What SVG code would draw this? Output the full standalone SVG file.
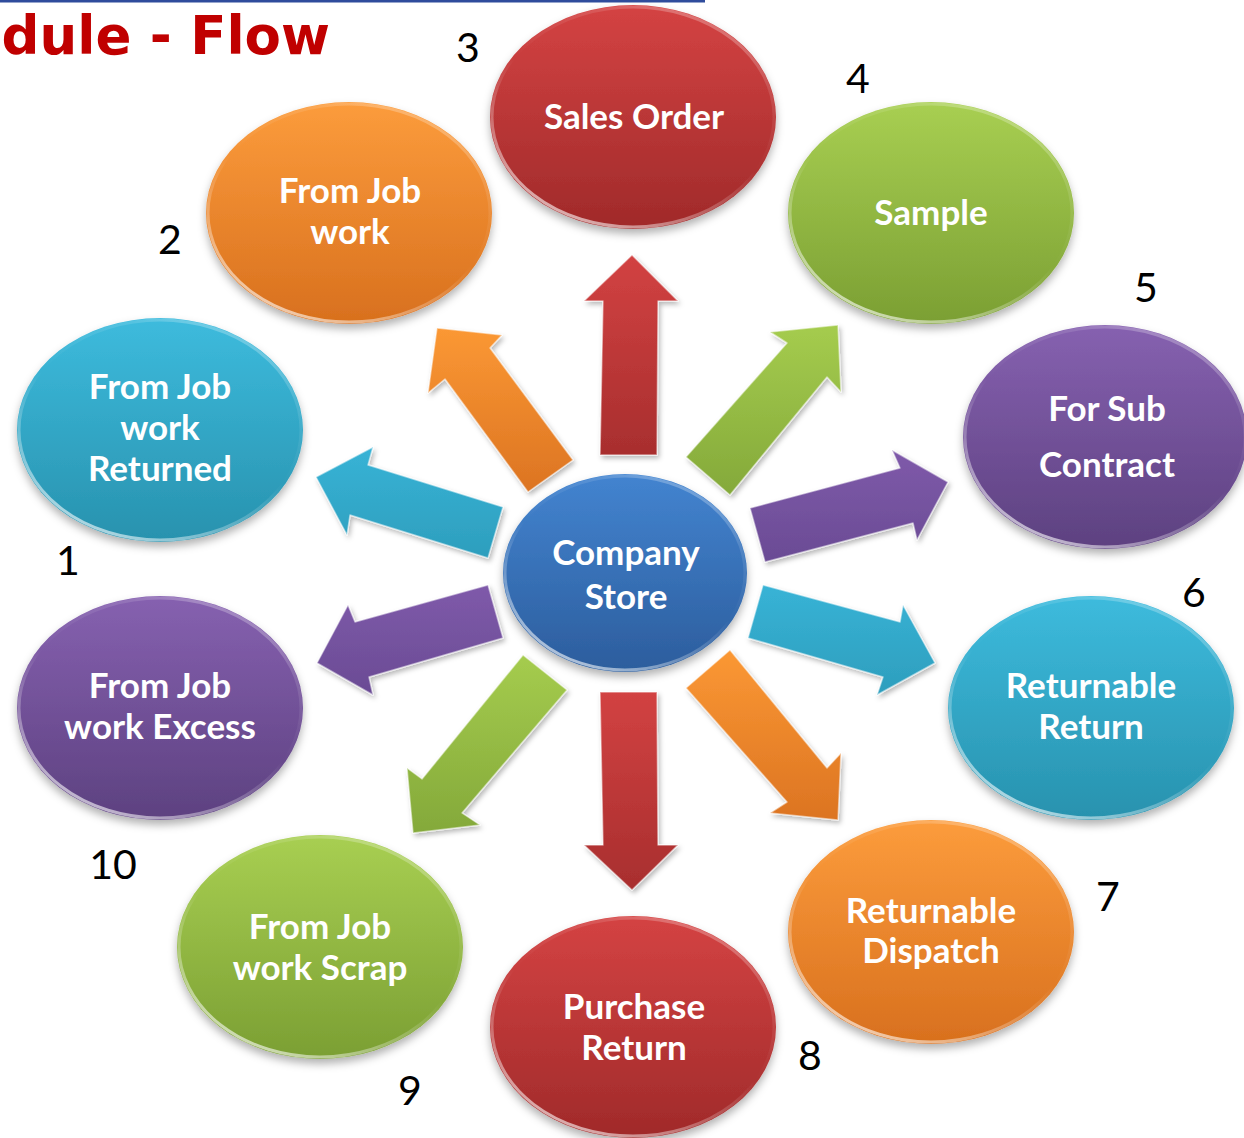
<svg xmlns="http://www.w3.org/2000/svg" width="1244" height="1138" viewBox="0 0 1244 1138">
<defs>
<filter id="sh" x="-20%" y="-20%" width="140%" height="150%">
<feDropShadow dx="0" dy="5" stdDeviation="4" flood-color="#000" flood-opacity="0.3"/>
</filter>
<filter id="ash" x="-20%" y="-20%" width="140%" height="140%">
<feDropShadow dx="2" dy="3" stdDeviation="2.5" flood-color="#000" flood-opacity="0.28"/>
</filter>
<linearGradient id="gRed" x1="0" y1="0" x2="0" y2="1"><stop offset="0" stop-color="#D44343"/><stop offset="1" stop-color="#A02A2A"/></linearGradient>
<linearGradient id="gOrange" x1="0" y1="0" x2="0" y2="1"><stop offset="0" stop-color="#FC9C3C"/><stop offset="1" stop-color="#D8701E"/></linearGradient>
<linearGradient id="gGreen" x1="0" y1="0" x2="0" y2="1"><stop offset="0" stop-color="#A8CF52"/><stop offset="1" stop-color="#7B9F33"/></linearGradient>
<linearGradient id="gPurple" x1="0" y1="0" x2="0" y2="1"><stop offset="0" stop-color="#8661B0"/><stop offset="1" stop-color="#5D4180"/></linearGradient>
<linearGradient id="gCyan" x1="0" y1="0" x2="0" y2="1"><stop offset="0" stop-color="#3DBBDD"/><stop offset="1" stop-color="#2892AE"/></linearGradient>
<linearGradient id="gBlue" x1="0" y1="0" x2="0" y2="1"><stop offset="0" stop-color="#4384D0"/><stop offset="1" stop-color="#2C5D9D"/></linearGradient>
<linearGradient id="rim" x1="0" y1="1" x2="0.6" y2="0">
<stop offset="0" stop-color="#fff" stop-opacity="0.85"/><stop offset="0.35" stop-color="#fff" stop-opacity="0.3"/><stop offset="0.6" stop-color="#fff" stop-opacity="0"/><stop offset="0.9" stop-color="#fff" stop-opacity="0.12"/><stop offset="1" stop-color="#fff" stop-opacity="0.25"/>
</linearGradient>
<linearGradient id="aRed" x1="0" y1="0" x2="0" y2="1"><stop offset="0" stop-color="#D24242"/><stop offset="1" stop-color="#A82E2E"/></linearGradient>
<linearGradient id="aOrange" x1="0" y1="0" x2="0" y2="1"><stop offset="0" stop-color="#FB9834"/><stop offset="1" stop-color="#DC7422"/></linearGradient>
<linearGradient id="aGreen" x1="0" y1="0" x2="0" y2="1"><stop offset="0" stop-color="#A5CC4E"/><stop offset="1" stop-color="#84A93A"/></linearGradient>
<linearGradient id="aPurple" x1="0" y1="0" x2="0" y2="1"><stop offset="0" stop-color="#7F5AAA"/><stop offset="1" stop-color="#6A4B94"/></linearGradient>
<linearGradient id="aCyan" x1="0" y1="0" x2="0" y2="1"><stop offset="0" stop-color="#38B3D6"/><stop offset="1" stop-color="#2D9EBD"/></linearGradient>
</defs>
<style>
.lbl{font-family:Lato,"Open Sans","Liberation Sans",sans-serif;font-weight:700;font-size:35px;fill:#fff;text-anchor:middle}
.num{font-family:Lato,"Liberation Sans",sans-serif;font-weight:400;font-size:41px;fill:#000;text-anchor:middle}
.rim{fill:none;stroke:url(#rim);stroke-width:3}
.arr{filter:url(#ash);stroke-linejoin:round;stroke-width:1.5;stroke-opacity:0.5;stroke:#fff}
</style>
<rect x="0" y="0" width="705" height="2.5" fill="#2F4C9C"/>
<text x="330" y="54" font-family="'DejaVu Sans',Verdana,sans-serif" font-weight="700" font-size="53" fill="#C00000" text-anchor="end">dule - Flow</text>

<g id="connectors">
<polygon class="arr" fill="url(#aRed)" points="632,255 678,301 658,301 657,455 600,455 603,301 584,301"/>
<polygon class="arr" fill="url(#aRed)" points="600,692 657,692 658,845 678,845 632,890 584,845 603,845"/>
<polygon class="arr" fill="url(#aOrange)" points="437,328 502,335 490,348 573,460 528,492 445,379 428,393"/>
<polygon class="arr" fill="url(#aGreen)" points="838,325 841,392 827,377 730,495 686,457 787,343 770,332"/>
<polygon class="arr" fill="url(#aPurple)" points="750,508 900,468 892,450 948,482 917,540 913,523 765,562"/>
<polygon class="arr" fill="url(#aCyan)" points="316,477 373,447 368,465 503,507 488,558 350,515 347,535"/>
<polygon class="arr" fill="url(#aPurple)" points="317,663 348,605 355,622 488,585 503,638 369,677 373,695"/>
<polygon class="arr" fill="url(#aCyan)" points="763,585 900,622 903,605 935,663 877,695 883,677 748,638"/>
<polygon class="arr" fill="url(#aGreen)" points="413,833 407,768 422,779 523,655 567,690 462,813 480,825"/>
<polygon class="arr" fill="url(#aOrange)" points="838,820 841,753 827,768 730,650 686,688 787,802 770,813"/>
</g>

<g id="node-center">
<ellipse cx="625" cy="573" rx="122" ry="99" fill="url(#gBlue)" filter="url(#sh)"/>
<ellipse class="rim" cx="625" cy="573" rx="120" ry="97"/>
<text class="lbl" x="626" y="565" font-size="38.5">Company</text>
<text class="lbl" x="626" y="609" font-size="38.5">Store</text>
</g>

<g id="node-3">
<ellipse cx="633" cy="117" rx="143" ry="112" fill="url(#gRed)" filter="url(#sh)"/>
<ellipse class="rim" cx="633" cy="117" rx="141" ry="110"/>
<text class="lbl" x="634" y="129">Sales Order</text>
</g>

<g id="node-2">
<ellipse cx="349" cy="213" rx="143" ry="111" fill="url(#gOrange)" filter="url(#sh)"/>
<ellipse class="rim" cx="349" cy="213" rx="141" ry="109"/>
<text class="lbl" x="350" y="203">From Job</text>
<text class="lbl" x="350" y="244">work</text>
</g>

<g id="node-4">
<ellipse cx="931" cy="213" rx="143" ry="111" fill="url(#gGreen)" filter="url(#sh)"/>
<ellipse class="rim" cx="931" cy="213" rx="141" ry="109"/>
<text class="lbl" x="931" y="225">Sample</text>
</g>

<g id="node-1">
<ellipse cx="160" cy="430" rx="143" ry="112" fill="url(#gCyan)" filter="url(#sh)"/>
<ellipse class="rim" cx="160" cy="430" rx="141" ry="110"/>
<text class="lbl" x="160" y="399">From Job</text>
<text class="lbl" x="160" y="440">work</text>
<text class="lbl" x="160" y="481">Returned</text>
</g>

<g id="node-5">
<ellipse cx="1105" cy="437" rx="142" ry="112" fill="url(#gPurple)" filter="url(#sh)"/>
<ellipse class="rim" cx="1105" cy="437" rx="140" ry="110"/>
<text class="lbl" x="1107" y="421">For Sub</text>
<text class="lbl" x="1107" y="477">Contract</text>
</g>

<g id="node-10">
<ellipse cx="160" cy="708" rx="143" ry="112" fill="url(#gPurple)" filter="url(#sh)"/>
<ellipse class="rim" cx="160" cy="708" rx="141" ry="110"/>
<text class="lbl" x="160" y="698">From Job</text>
<text class="lbl" x="160" y="739">work Excess</text>
</g>

<g id="node-6">
<ellipse cx="1091" cy="708" rx="143" ry="112" fill="url(#gCyan)" filter="url(#sh)"/>
<ellipse class="rim" cx="1091" cy="708" rx="141" ry="110"/>
<text class="lbl" x="1091" y="698">Returnable</text>
<text class="lbl" x="1091" y="739">Return</text>
</g>

<g id="node-9">
<ellipse cx="320" cy="947" rx="143" ry="112" fill="url(#gGreen)" filter="url(#sh)"/>
<ellipse class="rim" cx="320" cy="947" rx="141" ry="110"/>
<text class="lbl" x="320" y="939">From Job</text>
<text class="lbl" x="320" y="980">work Scrap</text>
</g>

<g id="node-8">
<ellipse cx="633" cy="1027" rx="143" ry="111" fill="url(#gRed)" filter="url(#sh)"/>
<ellipse class="rim" cx="633" cy="1027" rx="141" ry="109"/>
<text class="lbl" x="634" y="1019">Purchase</text>
<text class="lbl" x="634" y="1060">Return</text>
</g>

<g id="node-7">
<ellipse cx="931" cy="932" rx="143" ry="112" fill="url(#gOrange)" filter="url(#sh)"/>
<ellipse class="rim" cx="931" cy="932" rx="141" ry="110"/>
<text class="lbl" x="931" y="923">Returnable</text>
<text class="lbl" x="931" y="963">Dispatch</text>
</g>

<g id="numbers">
<text class="num" x="468" y="62">3</text>
<text class="num" x="858" y="93">4</text>
<text class="num" x="170" y="254">2</text>
<text class="num" x="1146" y="302">5</text>
<text class="num" x="68" y="575">1</text>
<text class="num" x="1194" y="607">6</text>
<text class="num" x="113" y="879">10</text>
<text class="num" x="1108" y="911">7</text>
<text class="num" x="810" y="1070">8</text>
<text class="num" x="410" y="1105">9</text>
</g>
</svg>
